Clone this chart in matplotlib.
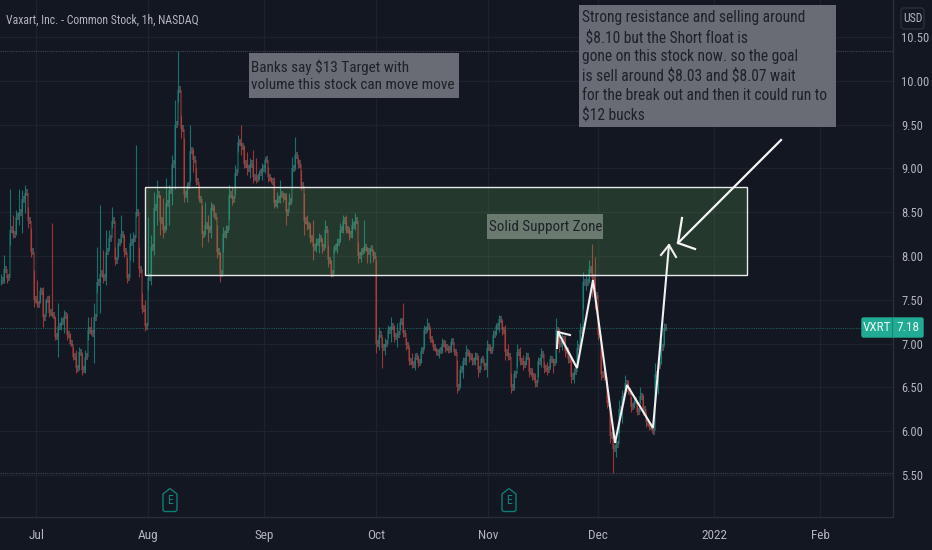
import matplotlib
matplotlib.use("Agg")
import matplotlib.pyplot as plt
from matplotlib.patches import Rectangle, Polygon, FancyBboxPatch

# hourly candles thinned out
highs = [7.80, 8.01, 7.80, 8.77, 8.47, 8.52, 8.77, 8.75, 8.81, 8.56, 8.32, 7.84, 7.73, 7.65, 7.65, 7.52, 7.55, 8.38, 7.30, 7.46,
         7.30, 7.38, 7.35, 7.12, 6.96, 6.93, 6.96, 6.89, 6.93, 7.30, 7.30, 7.46, 8.10, 8.58, 8.07, 8.30, 8.30, 8.56, 8.10, 8.21,
         8.47, 8.24, 7.99, 8.26, 8.27, 9.27, 8.10, 7.58, 7.50, 8.44, 8.24, 8.73, 8.87, 8.70, 8.66, 8.89, 8.81, 9.15, 9.78, 10.34,
         9.61, 9.35, 8.84, 9.50, 9.23, 9.00, 8.81, 8.58, 8.62, 8.47, 8.62, 8.58, 8.35, 8.04, 8.33, 8.35, 8.81, 8.79, 9.04, 9.38,
         9.50, 9.27, 9.19, 9.12, 9.21, 9.12, 8.98, 9.06, 9.13, 9.02, 8.90, 8.90, 8.73, 8.87, 8.73, 8.72, 8.72, 9.13, 9.36, 9.12,
         8.98, 8.72, 8.47, 8.38, 8.41, 8.21, 8.26, 8.21, 8.41, 8.13, 7.95, 8.13, 8.21, 8.38, 8.47, 8.47, 8.33, 8.43, 8.49, 8.16,
         8.09, 8.41, 8.10, 8.10, 8.07, 7.95, 7.19, 7.07, 7.06, 7.21, 7.30, 7.21, 7.23, 7.29, 7.46, 7.06, 6.96, 6.89, 6.89, 6.87,
         6.96, 7.21, 7.29, 7.18, 7.04, 6.95, 6.95, 7.06, 7.04, 6.98, 7.06, 6.95, 6.81, 6.75, 6.85, 6.98, 6.93, 6.89, 6.90, 6.87,
         6.85, 6.79, 7.04, 7.00, 7.15, 7.23, 7.33, 7.27, 7.21, 7.00, 6.66, 6.70, 7.00, 6.96, 6.87, 6.90, 6.83, 6.72, 6.66, 6.85,
         6.95, 6.79, 6.79, 6.87, 6.83, 7.29, 7.18, 7.12, 7.10, 6.96, 6.83, 6.72, 7.04, 7.23, 7.82, 7.80, 7.95, 8.14, 7.99, 7.33,
         7.04, 6.73, 6.42, 6.24, 5.86, 5.90, 6.36, 6.47, 6.64, 6.58, 6.39, 6.41, 6.33, 6.50, 6.43, 6.21, 6.10, 6.05, 6.78, 6.85,
         7.04, 7.23]
lows = [7.67, 7.69, 7.69, 8.13, 8.20, 8.24, 8.35, 8.26, 8.49, 8.32, 7.99, 7.42, 7.42, 7.47, 7.19, 7.35, 7.30, 7.30, 7.04, 6.85,
        7.15, 7.12, 7.04, 6.98, 6.81, 6.66, 6.70, 6.64, 6.67, 7.04, 7.10, 6.78, 7.58, 7.35, 7.69, 7.67, 8.07, 8.32, 7.90, 7.99,
        8.15, 7.99, 7.69, 7.95, 7.93, 8.44, 7.76, 7.35, 7.14, 7.61, 7.67, 8.01, 8.35, 8.24, 8.21, 8.30, 8.35, 8.58, 8.77, 9.76,
        9.35, 8.62, 8.62, 8.84, 8.96, 8.81, 8.62, 8.10, 8.24, 8.16, 8.20, 8.43, 7.98, 7.70, 8.04, 8.21, 8.41, 8.58, 8.70, 9.19,
        9.15, 9.00, 8.92, 8.89, 8.83, 8.83, 8.87, 8.87, 8.95, 8.84, 8.83, 8.55, 8.55, 8.60, 8.62, 8.35, 8.58, 8.79, 8.98, 9.00,
        8.75, 8.24, 8.30, 8.15, 7.95, 8.04, 8.03, 8.03, 8.09, 7.87, 7.76, 8.03, 8.03, 8.16, 8.26, 8.26, 8.18, 8.21, 8.30, 7.92,
        7.93, 8.03, 7.92, 7.92, 7.93, 6.89, 6.93, 6.72, 6.87, 7.06, 7.02, 7.02, 6.96, 7.15, 7.08, 6.93, 6.75, 6.72, 6.70, 6.73,
        6.78, 6.95, 7.13, 7.02, 6.93, 6.87, 6.83, 6.89, 6.90, 6.89, 6.90, 6.87, 6.44, 6.49, 6.61, 6.75, 6.79, 6.75, 6.75, 6.62,
        6.78, 6.70, 6.62, 6.89, 6.96, 7.10, 7.13, 7.10, 6.81, 6.81, 6.44, 6.47, 6.73, 6.75, 6.70, 6.75, 6.62, 6.58, 6.50, 6.62,
        6.73, 6.67, 6.64, 6.72, 6.67, 6.78, 6.90, 6.93, 6.85, 6.78, 6.55, 6.55, 6.73, 6.96, 7.40, 7.61, 7.69, 7.53, 7.40, 7.04,
        6.58, 6.58, 6.27, 5.86, 5.52, 5.70, 5.98, 6.09, 6.43, 6.43, 6.22, 6.27, 6.18, 6.32, 6.18, 6.05, 6.01, 5.98, 6.43, 6.43,
        6.78, 6.98]
closes = [7.72, 7.85, 7.75, 8.30, 8.25, 8.45, 8.50, 8.65, 8.72, 8.40, 8.05, 7.50, 7.45, 7.60, 7.30, 7.50, 7.35, 7.32, 7.08, 7.20,
          7.25, 7.32, 7.10, 7.00, 6.85, 6.72, 6.90, 6.70, 6.85, 7.15, 7.12, 7.30, 7.70, 7.80, 7.75, 8.05, 8.20, 8.40, 7.95, 8.15,
          8.25, 8.05, 7.75, 8.15, 8.20, 8.50, 7.85, 7.40, 7.20, 7.75, 8.10, 8.55, 8.70, 8.40, 8.30, 8.60, 8.75, 9.05, 9.50, 9.90,
          9.45, 8.70, 8.80, 9.20, 9.10, 8.85, 8.65, 8.25, 8.35, 8.30, 8.55, 8.45, 8.05, 7.80, 8.25, 8.30, 8.70, 8.65, 8.95, 9.30,
          9.25, 9.05, 9.00, 9.05, 8.90, 8.88, 8.95, 9.00, 9.10, 8.90, 8.85, 8.60, 8.65, 8.70, 8.68, 8.50, 8.62, 9.00, 9.15, 9.05,
          8.80, 8.40, 8.35, 8.20, 8.10, 8.15, 8.20, 8.10, 8.30, 7.95, 7.80, 8.10, 8.15, 8.30, 8.40, 8.30, 8.25, 8.35, 8.40, 8.00,
          8.05, 8.10, 8.05, 8.08, 8.00, 7.00, 7.10, 6.95, 7.00, 7.15, 7.20, 7.08, 7.10, 7.25, 7.12, 6.98, 6.80, 6.76, 6.85, 6.78,
          6.92, 7.15, 7.20, 7.05, 6.96, 6.90, 6.92, 7.00, 6.95, 6.93, 7.02, 6.90, 6.50, 6.70, 6.80, 6.90, 6.85, 6.80, 6.85, 6.70,
          6.82, 6.74, 6.95, 6.92, 7.10, 7.20, 7.28, 7.15, 6.90, 6.85, 6.50, 6.65, 6.90, 6.80, 6.76, 6.85, 6.68, 6.62, 6.55, 6.80,
          6.88, 6.72, 6.70, 6.82, 6.78, 7.15, 7.00, 7.05, 6.92, 6.82, 6.62, 6.68, 6.95, 7.15, 7.70, 7.70, 7.85, 7.75, 7.55, 7.10,
          6.65, 6.62, 6.32, 5.95, 5.80, 5.85, 6.25, 6.40, 6.55, 6.45, 6.28, 6.35, 6.22, 6.40, 6.25, 6.10, 6.05, 6.00, 6.65, 6.75,
          6.95, 7.18]

month_pos = [11.6, 48.9, 87.5, 124.8, 162.2, 198.8, 237.5, 273]
month_labels = ["Jul", "Aug", "Sep", "Oct", "Nov", "Dec", "2022", "Feb"]
price_ticks = [5.5, 6, 6.5, 7, 7.5, 8, 8.5, 9, 9.5, 10, 10.5]
zone_bottom = 7.78
zone_top = 8.79
period_high = 10.34
period_low = 5.52
last_price = 7.18

bg = "#131722"
grid_col = "#1e222d"
axis_col = "#2a2e39"
text_col = "#b2b5be"
up_col = "#1b8a80"
down_col = "#bd403c"

plt.rcParams["font.family"] = ["Roboto Condensed", "Lato"]

fig = plt.figure(figsize=(9.32, 5.5), dpi=100, facecolor=bg)
ax = fig.add_axes([0, (550 - 516.7) / 550, 892.7 / 932, 516.7 / 550], facecolor=bg)
ax.set_xlim(-0.5, 297.07)
ax.set_ylim(5.024, 10.922)

ax.set_xticks(month_pos)
ax.set_xticklabels(month_labels)
ax.set_yticks(price_ticks)
ax.set_yticklabels(["%.2f" % p for p in price_ticks])
ax.yaxis.tick_right()
ax.tick_params(axis="x", length=0, pad=9, labelsize=9.5, labelcolor=text_col)
ax.tick_params(axis="y", length=0, pad=6, labelsize=9, labelcolor=text_col)
ax.grid(True, color=grid_col, linewidth=0.9)
ax.set_axisbelow(True)
for name, sp in ax.spines.items():
    sp.set_color(axis_col)
    sp.set_visible(name in ("right", "bottom"))
    sp.set_linewidth(1)

# high / low / last price lines
ax.axhline(period_high, color="#434651", lw=0.8, ls=(0, (1, 1)))
ax.axhline(period_low, color="#434651", lw=0.8, ls=(0, (1, 1)))
ax.axhline(last_price, color="#1d5c59", lw=0.8, ls=(0, (1, 1)))

# candles
prev = closes[0]
for i in range(len(closes)):
    col = up_col if closes[i] >= prev else down_col
    ax.vlines(i, lows[i], highs[i], color=col, lw=0.8, alpha=0.8, zorder=3)
    ax.vlines(i, min(prev, closes[i]), max(prev, closes[i]), color=col, lw=1.3, alpha=0.5, zorder=3)
    ax.vlines(i + 0.4, closes[i] - 0.04, closes[i] + 0.04, color="#8a8a8a", lw=1.2, alpha=0.55, zorder=3)
    prev = closes[i]

# support zone
ax.add_patch(Rectangle((47.83, zone_bottom), 200.67, zone_top - zone_bottom, facecolor="#6dc15e",
                       alpha=0.2, edgecolor="none", zorder=4))
ax.add_patch(Rectangle((47.83, zone_bottom), 200.67, zone_top - zone_bottom, facecolor="none",
                       edgecolor="#e6e8ea", lw=1, zorder=5))

# everything else is drawn on top in pixel coordinates
ov = fig.add_axes([0, 0, 1, 1], facecolor="none")
ov.set_xlim(0, 932)
ov.set_ylim(550, 0)
ov.axis("off")

ov.text(6, 20, "Vaxart, Inc. - Common Stock, 1h, NASDAQ", color=text_col, fontsize=8.5, va="center")

box_col = "#696b75"
note_col = "#1e2128"
ov.add_patch(Rectangle((249, 53), 210, 45, facecolor=box_col, edgecolor="none", zorder=6))
ov.text(251, 76, "Banks say \\$13 Target with\nvolume this stock can move move", color=note_col,
        fontsize=11, va="center", linespacing=1.3, zorder=7)
ov.add_patch(Rectangle((487, 214), 116, 25, facecolor="#6a7a6f", edgecolor="none", zorder=6))
ov.text(489, 226.5, "Solid Support Zone", color=note_col, fontsize=10.8, va="center", zorder=7)
ov.add_patch(Rectangle((579, 5), 257, 122, facecolor=box_col, edgecolor="none", zorder=6))
ov.text(582, 66.5, "Strong resistance and selling around\n \\$8.10 but the Short float is\ngone on this stock now. so the goal\n"
        "is sell around \\$8.03 and \\$8.07 wait\nfor the break out and then it could run to\n\\$12 bucks",
        color=note_col, fontsize=11.2, va="center", linespacing=1.34, zorder=7)

# hand drawn arrows
wave_x = [558, 577, 593, 615, 627, 653, 669]
wave_y = [332, 368, 280, 443, 385, 428, 245]
ov.plot(wave_x, wave_y, color="#f0f0f0", lw=1.5, solid_joinstyle="miter", zorder=6)
ov.plot([570, 558, 557], [335, 332, 348], color="#f0f0f0", lw=1.5, zorder=6)
ov.plot([661, 669, 676], [255, 245, 257], color="#f0f0f0", lw=1.5, zorder=6)
ov.plot([781, 678], [140, 243], color="#f5f5f5", lw=1.6, zorder=6)
ov.plot([682, 678, 695], [218, 243, 249], color="#f5f5f5", lw=1.6, zorder=6)

# last price label
ov.add_patch(FancyBboxPatch((862, 318), 61, 19, boxstyle="round,pad=0,rounding_size=1.5",
                            facecolor="#22ab94", edgecolor="#22ab94", lw=1, zorder=6))
ov.plot([892, 892], [318, 337], color="#1a8573", lw=0.8, zorder=7)
ov.text(877, 327.5, "VXRT", color="#e8f5f2", fontsize=9.5, ha="center", va="center", zorder=8)
ov.text(908, 327.5, "7.18", color="#e8f5f2", fontsize=9.5, ha="center", va="center", zorder=8)

# currency button
ov.add_patch(FancyBboxPatch((901, 8), 23, 21, boxstyle="round,pad=0,rounding_size=3",
                            facecolor=bg, edgecolor=axis_col, lw=1, zorder=6))
ov.text(912.5, 18.5, "USD", color=text_col, fontsize=8.5, ha="center", va="center", zorder=7)

# earnings markers
for mx in [170, 509]:
    ov.add_patch(Polygon([(mx, 488.5), (mx + 7, 494), (mx + 7, 510), (mx + 5.5, 511.5), (mx - 5.5, 511.5),
                          (mx - 7, 510), (mx - 7, 494)], closed=True, facecolor=bg, edgecolor="#0f7d73", lw=1, zorder=6))
    ov.text(mx, 501, "E", color="#0f8a7e", fontsize=8.5, ha="center", va="center", zorder=7)

fig.savefig("out.png", dpi=100, facecolor=bg)
